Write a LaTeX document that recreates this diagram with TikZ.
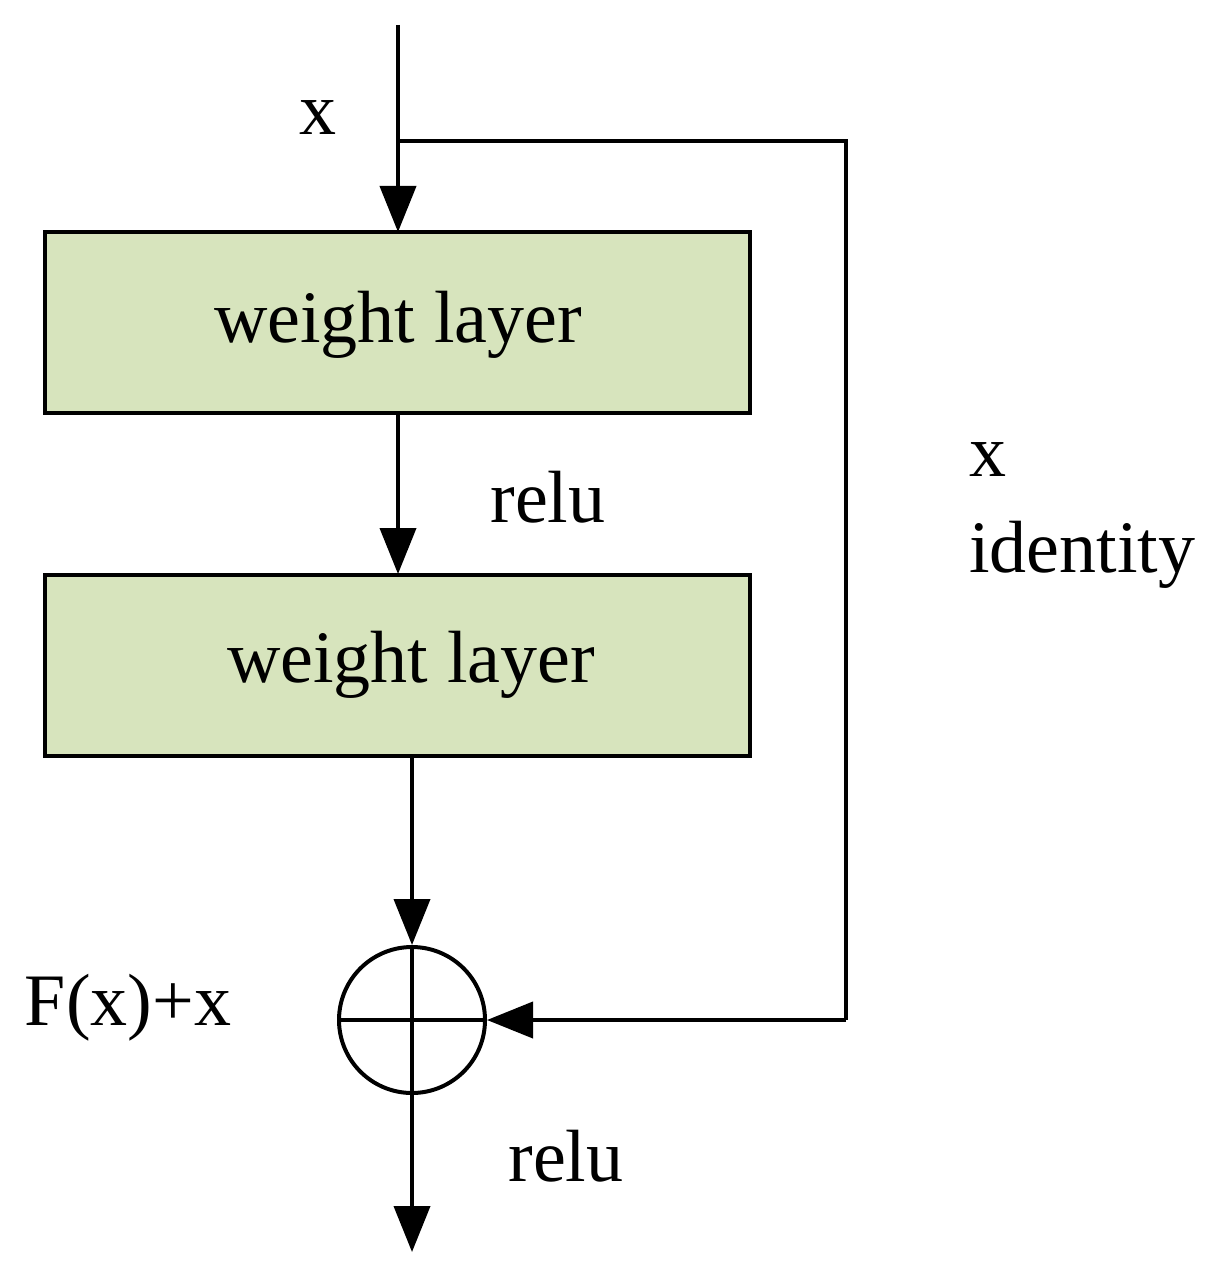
\documentclass[tikz,border=0pt]{standalone}
\usepackage{fontspec}
\setmainfont{Liberation Serif}
\usetikzlibrary{arrows.meta}
\definecolor{boxg}{HTML}{D7E4BD}
\begin{document}
\begin{tikzpicture}[x=1pt,y=-1pt,
  line width=4pt,
  arr/.style={-{Triangle[length=46pt,width=36pt]}},
  box/.style={draw,fill=boxg,rectangle,minimum width=705pt,minimum height=181pt,inner sep=0pt},
  lbl/.style={font=\fontsize{74}{80}\selectfont,inner sep=0pt}]
\useasboundingbox (0,0) rectangle (1224,1276);
\node[box] (b1) at (397.5,322.5) {};
\node[lbl] at (398,325) {weight layer};
\node[box] (b2) at (397.5,665.5) {};
\node[lbl] at (411,665) {weight layer};
\node[circle,draw,minimum size=146pt,inner sep=0pt] (s) at (412,1020) {};
\coordinate (top) at (398,25);
\coordinate (br) at (398,141);
\coordinate (r1) at (846,141);
\coordinate (r2) at (846,1020);
\coordinate (out) at (412,1252);
\draw[arr] (top) -- (398,232);
\draw (br) -- (r1) -- (r2);
\draw[arr] (r2) -- (s.east);
\draw[arr] (398,413) -- (398,574);
\draw[arr] (412,757) -- (s.north);
\draw (s.north) -- (s.south) (s.west) -- (s.east);
\draw[arr] (s.south) -- (out);
\node[lbl] at (318,118) {x};
\node[lbl] at (548,497) {relu};
\node[lbl] at (988,460) {x};
\node[lbl,anchor=west] at (967,555) {identity};
\node[lbl] at (128,1008) {F(x)+x};
\node[lbl] at (566,1156) {relu};
\end{tikzpicture}
\end{document}
